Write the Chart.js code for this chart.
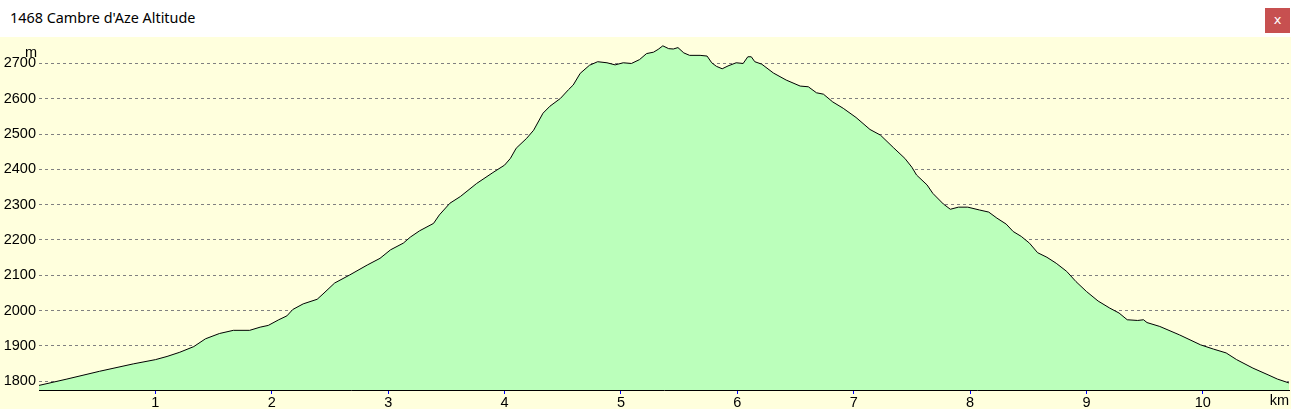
<!DOCTYPE html>
<html>
<head>
<meta charset="utf-8">
<script src="https://cdn.jsdelivr.net/npm/chart.js@4/dist/chart.umd.min.js"></script>
<style>
  html, body { margin: 0; padding: 0; background: #ffffff; }
  body { width: 1291px; height: 409px; position: relative; overflow: hidden; }
  #titlebar { position: absolute; left: 0; top: 0; width: 1291px; height: 37px; background: #ffffff; }
  #title { position: absolute; left: 10px; top: 8px; font-family: "Noto Sans", "Open Sans", sans-serif; font-size: 14.4px; color: #000; white-space: nowrap; }
  #close { position: absolute; left: 1265px; top: 8px; width: 25px; height: 25px; background: #c75050; color: #fff; font-family: "DejaVu Sans", sans-serif; font-size: 13px; text-align: center; line-height: 23px; }
  #wrap { position: absolute; left: 0; top: 37px; width: 1291px; height: 372px; background: #ffffdd; }
  canvas { display: block; }
</style>
</head>
<body>
<div id="titlebar"><div id="title">1468 Cambre d'Aze Altitude</div><div id="close">x</div></div>
<div id="wrap"><canvas id="c" width="1291" height="372"></canvas></div>
<script>
// Distance along the route (km)
const distanceKm = [
  0.00, 0.24, 0.52, 0.81, 1.00, 1.10, 1.21, 1.33, 1.43, 1.55, 1.67, 1.81, 1.90, 1.97, 2.06, 2.13,
  2.18, 2.27, 2.39, 2.44, 2.54, 2.67, 2.82, 2.93, 3.02, 3.13, 3.19, 3.27, 3.39, 3.44, 3.53, 3.62,
  3.76, 3.90, 4.00, 4.05, 4.10, 4.19, 4.25, 4.33, 4.39, 4.48, 4.55, 4.59, 4.65, 4.73, 4.80, 4.88,
  4.95, 5.02, 5.09, 5.16, 5.22, 5.28, 5.32, 5.36, 5.41, 5.45, 5.49, 5.54, 5.59, 5.68, 5.74, 5.78,
  5.82, 5.87, 5.92, 5.99, 6.05, 6.09, 6.12, 6.15, 6.21, 6.31, 6.42, 6.54, 6.61, 6.68, 6.74, 6.82,
  6.91, 7.02, 7.14, 7.23, 7.34, 7.44, 7.50, 7.54, 7.63, 7.68, 7.77, 7.83, 7.90, 7.98, 8.08, 8.16,
  8.23, 8.31, 8.37, 8.44, 8.51, 8.58, 8.66, 8.74, 8.83, 8.91, 9.00, 9.10, 9.20, 9.28, 9.35, 9.44,
  9.49, 9.52, 9.63, 9.80, 9.98, 10.09, 10.20, 10.29, 10.43, 10.56, 10.64, 10.74
];
// Altitude (m)
const altitudeM = [
  1788, 1806, 1828, 1849, 1861, 1870, 1882, 1898, 1920, 1935, 1944, 1944, 1953, 1958, 1974, 1985,
  2003, 2019, 2032, 2047, 2078, 2101, 2129, 2148, 2172, 2191, 2208, 2226, 2247, 2271, 2304, 2323,
  2360, 2391, 2412, 2431, 2460, 2488, 2511, 2559, 2579, 2601, 2626, 2639, 2672, 2695, 2705, 2702,
  2696, 2702, 2700, 2711, 2728, 2732, 2740, 2750, 2742, 2741, 2745, 2730, 2723, 2723, 2721, 2702,
  2692, 2685, 2693, 2702, 2700, 2719, 2719, 2705, 2698, 2673, 2653, 2636, 2634, 2617, 2613, 2591,
  2573, 2547, 2513, 2497, 2462, 2431, 2406, 2384, 2356, 2332, 2302, 2287, 2293, 2293, 2285, 2279,
  2262, 2245, 2224, 2210, 2191, 2164, 2151, 2134, 2111, 2082, 2054, 2027, 2007, 1993, 1974, 1972,
  1974, 1966, 1955, 1931, 1903, 1891, 1880, 1861, 1837, 1818, 1806, 1795
];
// Axis tick labels
const xTicks = [1, 2, 3, 4, 5, 6, 7, 8, 9, 10];
const yTicks = [1800, 1900, 2000, 2100, 2200, 2300, 2400, 2500, 2600, 2700];
const xUnit = 'km';
const yUnit = 'm';

const tickFont = { family: '"Liberation Sans", Arial, sans-serif', size: 14.5 };

const unitLabels = {
  id: 'unitLabels',
  afterDraw(chart) {
    const ctx = chart.ctx;
    const area = chart.chartArea;
    ctx.save();
    ctx.font = '14.5px "Liberation Sans", Arial, sans-serif';
    ctx.fillStyle = '#000';
    ctx.textBaseline = 'middle';
    ctx.textAlign = 'right';
    ctx.fillText(yUnit, area.left - 2, 16);
    ctx.fillText(xUnit, area.right, 364);
    ctx.restore();
  }
};

new Chart(document.getElementById('c'), {
  type: 'line',
  data: {
    datasets: [{
      data: distanceKm.map((d, i) => ({ x: d, y: altitudeM[i] })),
      borderColor: '#000000',
      borderWidth: 1,
      backgroundColor: '#bbffbb',
      fill: 'start',
      pointRadius: 0,
      tension: 0
    }]
  },
  options: {
    responsive: false,
    animation: false,
    devicePixelRatio: 1,
    layout: { padding: { left: 0, right: 2, top: 0, bottom: 0 } },
    plugins: { legend: { display: false }, tooltip: { enabled: false } },
    scales: {
      x: {
        type: 'linear',
        min: 0,
        max: 10.74,
        afterBuildTicks: (s) => { s.ticks = xTicks.map(v => ({ value: v })); },
        afterFit: (s) => { s.height = 19; s.paddingLeft = 0; s.paddingRight = 0; },
        grid: { drawOnChartArea: false, color: '#0000ff', tickLength: 4, lineWidth: 1 },
        border: { display: true, color: '#000000', width: 1 },
        ticks: { font: tickFont, color: '#000', padding: 0, maxRotation: 0, autoSkip: false,
                 callback: (v) => String(v) }
      },
      y: {
        type: 'linear',
        min: 1775,
        max: 2775,
        afterBuildTicks: (s) => { s.ticks = yTicks.map(v => ({ value: v })); },
        afterFit: (s) => { s.width = 39; s.paddingTop = 0; s.paddingBottom = 0; },
        grid: { color: '#808080', lineWidth: 1, drawTicks: false },
        border: { display: false, dash: [3, 3] },
        ticks: { font: tickFont, color: '#000', padding: 3, autoSkip: false,
                 callback: (v) => String(v) }
      }
    }
  },
  plugins: [unitLabels]
});
</script>
</body>
</html>
